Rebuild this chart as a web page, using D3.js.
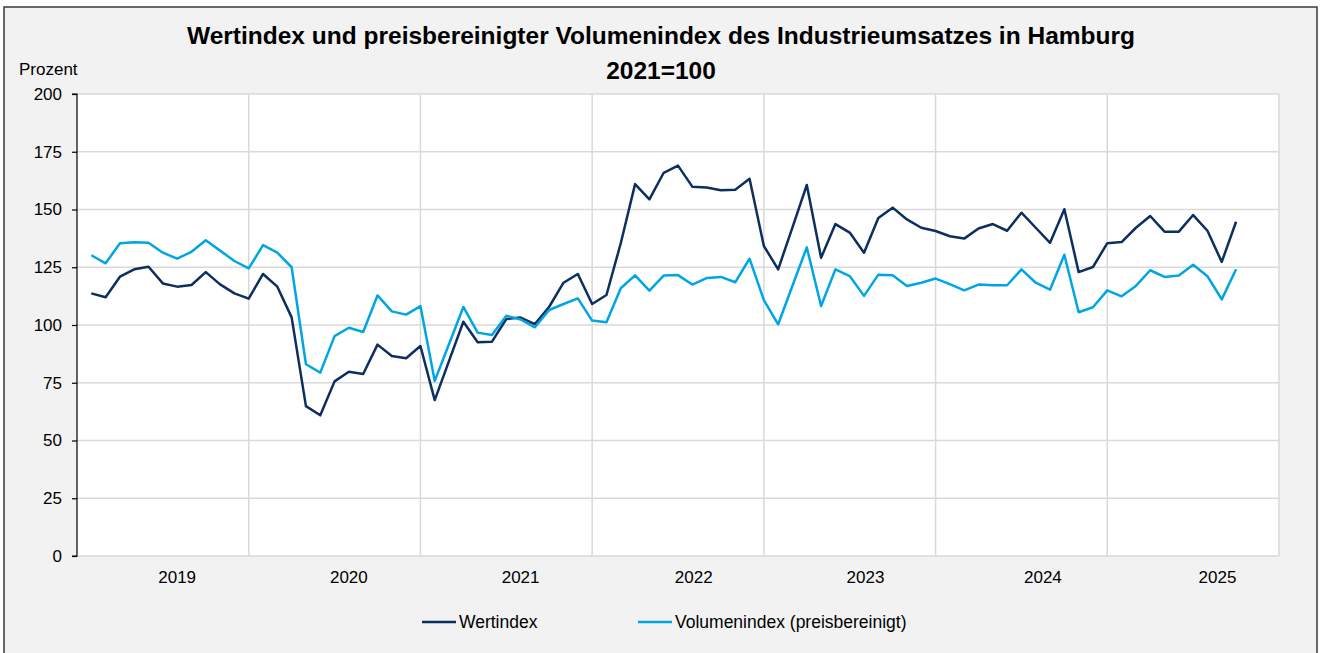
<!DOCTYPE html>
<html><head><meta charset="utf-8">
<script src="https://cdn.jsdelivr.net/npm/d3@7"></script>
<style>
html,body{margin:0;padding:0;background:#fff;}
svg{display:block;font-family:"Liberation Sans",Arial,sans-serif;}
</style></head>
<body>
<svg id="c" width="1324" height="653"></svg>
<script>
const title1 = "Wertindex und preisbereinigter Volumenindex des Industrieumsatzes in Hamburg";
const title2 = "2021=100";
const yLabel = "Prozent";
const years = ["2019","2020","2021","2022","2023","2024","2025"];
const yTicks = [0,25,50,75,100,125,150,175,200];
const seriesNames = ["Wertindex","Volumenindex (preisbereinigt)"];
const wertindex = [
 113.7,112.0,120.9,124.1,125.2,118.0,116.6,117.3,122.9,117.6,113.7,111.4,
 122.1,116.6,103.3,64.9,60.9,75.6,79.8,78.8,91.5,86.6,85.6,90.9,
 67.5,84.5,101.4,92.5,92.8,102.6,103.2,100.4,107.9,118.3,122.1,109.1,
 113.0,135.4,161.0,154.4,165.9,169.0,159.9,159.5,158.3,158.6,163.3,134.2,
 124.1,142.3,160.6,129.1,143.7,140.0,131.3,146.3,150.8,145.7,142.1,140.7,
 138.4,137.4,141.8,143.7,140.8,148.6,142.1,135.6,150.1,122.9,125.1,135.4,
 135.9,142.1,147.2,140.4,140.4,147.6,140.8,127.3,144.7
];
const volumenindex = [
 130.2,126.7,135.4,135.8,135.6,131.3,128.7,131.7,136.7,132.2,127.7,124.5,
 134.6,131.3,125.0,83.0,79.4,95.2,98.8,97.0,112.8,105.9,104.5,108.2,
 75.8,91.8,107.8,96.7,95.7,104.0,102.4,99.0,106.5,109.1,111.5,101.9,
 101.2,115.9,121.5,114.9,121.4,121.6,117.5,120.3,120.8,118.5,128.7,110.8,
 100.3,117.0,133.6,108.2,124.1,121.2,112.6,121.8,121.5,116.9,118.3,120.1,
 117.7,115.0,117.5,117.2,117.2,124.1,118.3,115.3,130.4,105.5,107.7,115.0,
 112.4,116.9,123.7,120.8,121.4,126.1,121.1,111.1,124.1
];
const colors = ["#0c2f5f","#00a6e4"];

const svg = d3.select("#c");
// frame
svg.append("rect").attr("x",4).attr("y",7).attr("width",1313).attr("height",660)
  .attr("fill","#f2f2f2").attr("stroke","#3a3a3a").attr("stroke-width",1.5);

const L=77, R=1279, T=94, B=556;
const x = d3.scaleLinear().domain([-1, years.length*12-1]).range([L,R]);
const y = d3.scaleLinear().domain([0,200]).range([B,T]);

svg.append("rect").attr("x",L).attr("y",T).attr("width",R-L).attr("height",B-T).attr("fill","#fff");

// horizontal grid
svg.append("g").selectAll("line").data(yTicks).join("line")
  .attr("x1",L).attr("x2",R).attr("y1",d=>y(d)).attr("y2",d=>y(d))
  .attr("stroke","#d9d9d9").attr("stroke-width",1.5);
// vertical grid at year boundaries
const bounds = d3.range(1, years.length+1).map(k=>k*12-1);
svg.append("g").selectAll("line").data(bounds).join("line")
  .attr("x1",d=>x(d)).attr("x2",d=>x(d)).attr("y1",T).attr("y2",B)
  .attr("stroke","#d9d9d9").attr("stroke-width",1.5);

// y axis
const yAxis = d3.axisLeft(y).tickValues(yTicks).tickSize(5).tickPadding(10);
const ga = svg.append("g").attr("transform",`translate(${L},0)`).call(yAxis);
ga.select(".domain").attr("stroke","#000").attr("stroke-width",1.2).attr("d",`M-5,${T}H0V${B}H-5`);
ga.selectAll(".tick line").attr("stroke","#000").attr("stroke-width",1.2);
ga.selectAll(".tick text").attr("font-size",17).attr("fill","#000")
  .attr("font-family","Liberation Sans, Arial, sans-serif");

// year labels (centred within each year's months)
const yearOffset = [6.0,6.0,6.0,6.1,6.1,6.5,6.7];
svg.append("g").selectAll("text").data(years).join("text")
  .attr("x",(d,i)=>x(i*12+yearOffset[i])).attr("y",583).attr("text-anchor","middle")
  .attr("font-size",17).attr("fill","#000").text(d=>d);

// lines
const line = d3.line().x((d,i)=>x(i)).y(d=>y(d));
[wertindex, volumenindex].forEach((s,k)=>{
  svg.append("path").datum(s).attr("d",line).attr("fill","none")
    .attr("stroke",colors[k]).attr("stroke-width",2.5).attr("stroke-linejoin","round");
});

// titles
svg.append("text").attr("x",661).attr("y",44).attr("text-anchor","middle")
  .attr("font-size",24.5).attr("font-weight","bold").text(title1);
svg.append("text").attr("x",661).attr("y",79).attr("text-anchor","middle")
  .attr("font-size",24.5).attr("font-weight","bold").text(title2);
svg.append("text").attr("x",19).attr("y",75).attr("font-size",17).text(yLabel);

// legend
const legX = [422, 638];
seriesNames.forEach((n,k)=>{
  svg.append("line").attr("x1",legX[k]).attr("x2",legX[k]+34).attr("y1",622).attr("y2",622)
    .attr("stroke",colors[k]).attr("stroke-width",2.6);
  svg.append("text").attr("x",legX[k]+37).attr("y",628).attr("font-size",17.5).text(n);
});
</script>
</body></html>
